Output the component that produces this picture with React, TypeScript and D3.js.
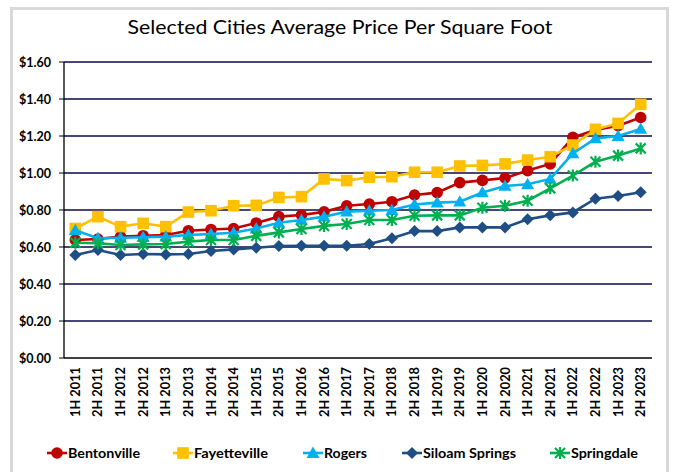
import React from "react";
import * as d3 from "d3";

const categories = [
  "1H 2011","2H 2011","1H 2012","2H 2012","1H 2013","2H 2013","1H 2014","2H 2014",
  "1H 2015","2H 2015","1H 2016","2H 2016","1H 2017","2H 2017","1H 2018","2H 2018",
  "1H 2019","2H 2019","1H 2020","2H 2020","1H 2021","2H 2021","1H 2022","2H 2022",
  "1H 2023","2H 2023",
];

const bentonville = [0.638,0.643,0.656,0.661,0.665,0.688,0.695,0.700,0.730,0.764,0.773,0.790,0.823,0.832,0.845,0.881,0.894,0.948,0.960,0.973,1.013,1.049,1.193,1.232,1.256,1.300];
const fayetteville = [0.700,0.764,0.710,0.728,0.710,0.789,0.796,0.823,0.825,0.868,0.872,0.968,0.959,0.977,0.980,1.004,1.004,1.038,1.041,1.049,1.070,1.088,1.151,1.236,1.268,1.371];
const rogers = [0.690,0.647,0.650,0.653,0.656,0.665,0.670,0.677,0.700,0.731,0.746,0.764,0.791,0.796,0.800,0.830,0.840,0.845,0.895,0.930,0.939,0.968,1.106,1.187,1.200,1.238];
const siloamSprings = [0.557,0.584,0.557,0.562,0.560,0.562,0.578,0.587,0.596,0.605,0.607,0.607,0.607,0.616,0.647,0.686,0.686,0.706,0.706,0.706,0.750,0.771,0.787,0.861,0.876,0.896];
const springdale = [0.623,0.620,0.611,0.614,0.616,0.629,0.638,0.638,0.660,0.679,0.697,0.714,0.724,0.746,0.746,0.769,0.771,0.771,0.812,0.823,0.850,0.917,0.986,1.061,1.094,1.133];

const yTicks = [0, 0.2, 0.4, 0.6, 0.8, 1.0, 1.2, 1.4, 1.6];

const series = [
  { name: "Bentonville", values: bentonville, color: "#C00000", marker: "circle" },
  { name: "Fayetteville", values: fayetteville, color: "#FFC000", marker: "square" },
  { name: "Rogers", values: rogers, color: "#00B0F0", marker: "triangle" },
  { name: "Siloam Springs", values: siloamSprings, color: "#1F4E85", marker: "diamond" },
  { name: "Springdale", values: springdale, color: "#00B050", marker: "star" },
];

const legendX = [47, 173, 303, 402, 550];
const legendW = [72, 74, 43, 93, 67];

const FONT = "Lato, 'Open Sans', sans-serif";

function Marker({ type, x, y, color }: { type: string; x: number; y: number; color: string }) {
  if (type === "circle") return <circle cx={x} cy={y} r={5.8} fill={color} />;
  if (type === "square") return <rect x={x - 5.8} y={y - 5.8} width={11.6} height={11.6} fill={color} />;
  if (type === "triangle") {
    const s = 6.5;
    return <path d={`M${x},${y - s}L${x + s},${y + s * 0.75}L${x - s},${y + s * 0.75}Z`} fill={color} />;
  }
  if (type === "diamond") {
    const s = 6;
    return <path d={`M${x},${y - s}L${x + s},${y}L${x},${y + s}L${x - s},${y}Z`} fill={color} />;
  }
  const s = 5;
  return (
    <path
      d={`M${x - s},${y - s}L${x + s},${y + s}M${x - s},${y + s}L${x + s},${y - s}M${x},${y - s * 1.2}L${x},${y + s * 1.2}`}
      stroke={color}
      strokeWidth={2.2}
      fill="none"
    />
  );
}

export default function App() {
  const W = 673, H = 472;
  const left = 64, right = 652, top = 62, bottom = 358;
  const x = d3.scaleBand<string>().domain(categories).range([left, right]);
  const y = d3.scaleLinear().domain([0, 1.6]).range([bottom, top]);
  const cx = (c: string) => (x(c) as number) + x.bandwidth() / 2;
  const line = d3
    .line<number>()
    .x((_, i) => cx(categories[i]))
    .y((v) => y(v));

  return (
    <svg width={W} height={H} style={{ position: "absolute", left: 0, top: 0, background: "#fff" }} fontFamily={FONT}>
      <rect x={0} y={0} width={W} height={H} fill="#fff" />
      <rect x={11.5} y={8.5} width={656} height={475} fill="none" stroke="#d9d9d9" strokeWidth={3} />
      <text x={340} y={34} textAnchor="middle" fontSize={20} fill="#000" textLength={425} lengthAdjust="spacingAndGlyphs">
        Selected Cities Average Price Per Square Foot
      </text>
      {yTicks.map((t) => (
        <g key={t}>
          {t > 0 && <line x1={left} x2={right} y1={y(t)} y2={y(t)} stroke="#0a0a4a" strokeWidth={1.3} />}
          <line x1={left - 5} x2={left} y1={y(t)} y2={y(t)} stroke="#000" strokeWidth={1} />
          <text x={51} y={y(t) + 4.5} textAnchor="end" fontSize={13} fontWeight="bold" fill="#000" textLength={32} lengthAdjust="spacingAndGlyphs">
            {"$" + t.toFixed(2)}
          </text>
        </g>
      ))}
      <line x1={left} x2={left} y1={top} y2={bottom} stroke="#000" strokeWidth={1.3} />
      <line x1={left} x2={right} y1={bottom} y2={bottom} stroke="#000" strokeWidth={1.3} />
      {categories.map((c) => (
        <text
          key={c}
          transform={`translate(${cx(c) + 4.5},${367}) rotate(-90)`}
          textAnchor="end"
          fontSize={13}
          fontWeight="bold"
          fill="#000"
          textLength={50}
          lengthAdjust="spacingAndGlyphs"
        >
          {c}
        </text>
      ))}
      {series.map((s) => (
        <g key={s.name}>
          <path d={line(s.values) || ""} fill="none" stroke={s.color} strokeWidth={2.6} />
          {s.values.map((v, i) => (
            <Marker key={i} type={s.marker} x={cx(categories[i])} y={y(v)} color={s.color} />
          ))}
        </g>
      ))}
      {series.map((s, i) => (
        <g key={s.name}>
          <line x1={legendX[i]} x2={legendX[i] + 20} y1={453} y2={453} stroke={s.color} strokeWidth={2.6} />
          <Marker type={s.marker} x={legendX[i] + 10} y={453} color={s.color} />
          <text x={legendX[i] + 21} y={458} fontSize={14} fontWeight="bold" fill="#000" textLength={legendW[i]} lengthAdjust="spacingAndGlyphs">
            {s.name}
          </text>
        </g>
      ))}
    </svg>
  );
}
